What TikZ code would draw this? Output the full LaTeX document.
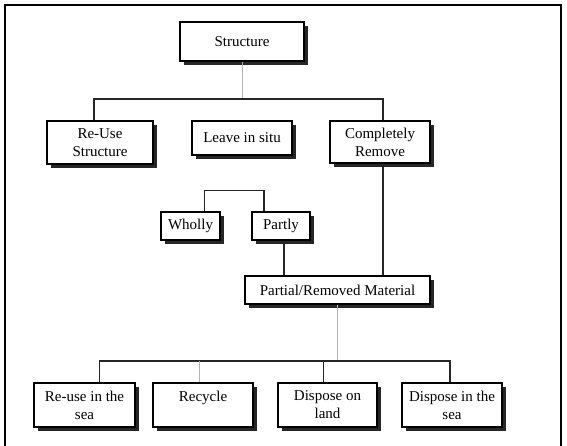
\documentclass[tikz,border=0pt]{standalone}
\usepackage{fontspec}
\setmainfont{Liberation Serif}
\usetikzlibrary{shadows}

\tikzset{
    box/.style={draw, line width=1.2pt, fill=white, align=center, inner sep=0pt,
        font=\fontsize{15}{18}\selectfont,
        drop shadow={shadow xshift=4pt, shadow yshift=-4pt, fill=black!85, opacity=1}},
    link/.style={line width=1.2pt, black!85},
    faint/.style={black!30}
}

\begin{document}
\begin{tikzpicture}[x=1pt, y=-1pt]
    \useasboundingbox (0,0) rectangle (567,446);
    \draw[line width=1.2pt] (5,446) -- (5,5) -- (561,5) -- (561,446);

    % top level
    \node[box, minimum width=124, minimum height=39] (structure) at (242,41.5) {Structure};
    \node[box, minimum width=106, minimum height=43] (reuse) at (100,142.5) {Re-Use\\Structure};
    \node[box, minimum width=100, minimum height=34] (insitu) at (242,138) {Leave in situ};
    \node[box, minimum width=100, minimum height=42] (remove) at (380,142) {Completely\\Remove};

    % leave in situ
    \node[box, minimum width=59, minimum height=28] (wholly) at (190.5,226) {Wholly};
    \node[box, minimum width=58, minimum height=28] (partly) at (281,226) {Partly};
    \node[box, minimum width=185, minimum height=28] (material) at (337.5,290) {Partial/Removed Material};

    % bottom level
    \node[box, minimum width=101, minimum height=44] (seareuse) at (84.5,405) {Re-use in the\\sea};
    \node[box, minimum width=100, minimum height=44] (recycle) at (203,405) {Recycle\\\mbox{}};
    \node[box, minimum width=99, minimum height=44] (land) at (327.5,405) {Dispose on\\land};
    \node[box, minimum width=100, minimum height=44] (sea) at (452,405) {Dispose in the\\sea};

    \coordinate (split) at (242,99);
    \coordinate (fork) at (337.5,361);

    \draw[faint] (structure.south) -- (split);
    \draw[link] ([xshift=-6pt]reuse.north) |- (split) -| ([xshift=3pt]remove.north);
    \draw[link] ([xshift=3pt]remove.south) -- ([xshift=3pt]remove.south |- material.north);
    \draw[link] ([xshift=14pt]wholly.north) -- ++(0,-21) -| ([xshift=-17pt]partly.north);
    \draw[link] ([xshift=3pt]partly.south) -- ([xshift=3pt]partly.south |- material.north);

    \draw[faint] (material.south) -- (fork);
    \draw[link] ([xshift=15pt]seareuse.north) |- (fork) -| ([xshift=-2pt]sea.north);
    \draw[faint] ([xshift=-4pt]recycle.north) -- ([xshift=-4pt]recycle.north |- fork);
    \draw[link] ([xshift=-4pt]land.north) -- ([xshift=-4pt]land.north |- fork);
\end{tikzpicture}
\end{document}
